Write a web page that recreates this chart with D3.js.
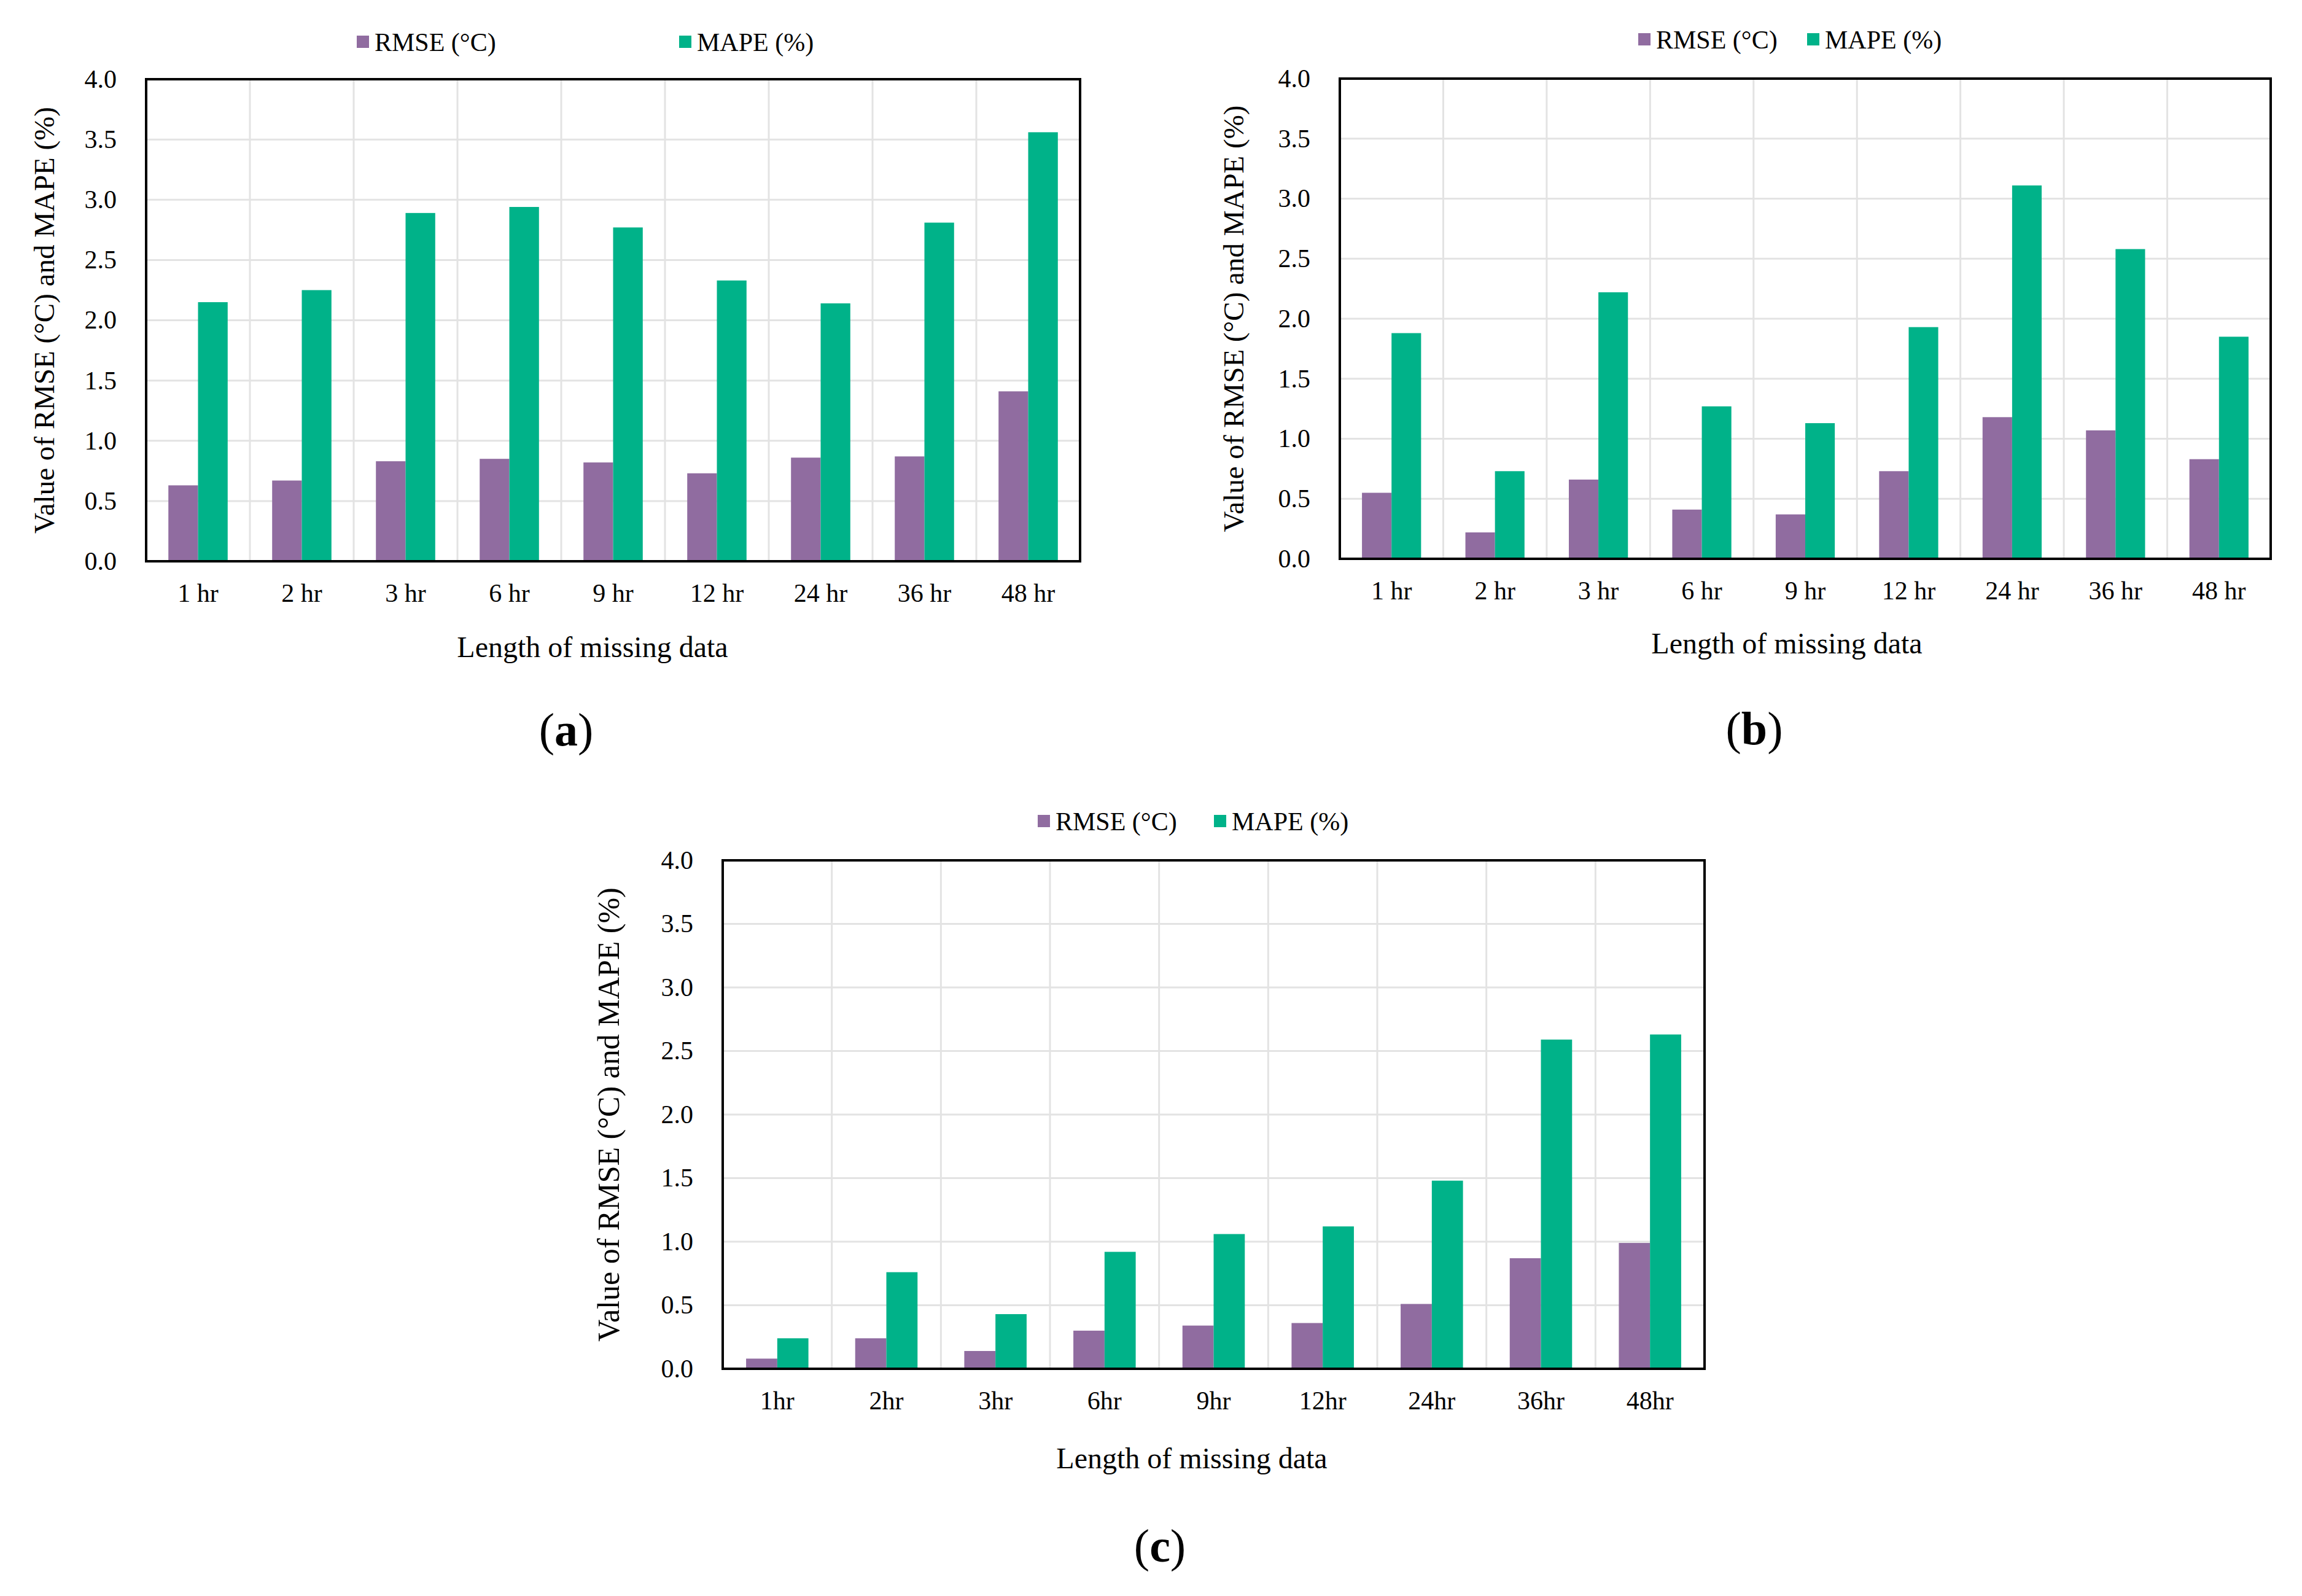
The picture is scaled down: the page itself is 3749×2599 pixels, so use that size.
<!DOCTYPE html>
<html>
<head>
<meta charset="utf-8">
<script src="https://cdn.jsdelivr.net/npm/d3@7"></script>
<style>
  body { margin: 0; background: #fff; }
  text { font-family: "Liberation Serif", "Times New Roman", serif; fill: #000; }
</style>
</head>
<body>
<div id="chart"></div>
<script>
// Data
var hoursAB = ["1 hr", "2 hr", "3 hr", "6 hr", "9 hr", "12 hr", "24 hr", "36 hr", "48 hr"];
var hoursC = ["1hr", "2hr", "3hr", "6hr", "9hr", "12hr", "24hr", "36hr", "48hr"];
var seriesNames = ["RMSE (°C)", "MAPE (%)"];
var yTicks = [0, 0.5, 1, 1.5, 2, 2.5, 3, 3.5, 4];

var rmseA = [0.63, 0.67, 0.83, 0.85, 0.82, 0.73, 0.86, 0.87, 1.41];
var mapeA = [2.15, 2.25, 2.89, 2.94, 2.77, 2.33, 2.14, 2.81, 3.56];

var rmseB = [0.55, 0.22, 0.66, 0.41, 0.37, 0.73, 1.18, 1.07, 0.83];
var mapeB = [1.88, 0.73, 2.22, 1.27, 1.13, 1.93, 3.11, 2.58, 1.85];

var rmseC = [0.08, 0.24, 0.14, 0.30, 0.34, 0.36, 0.51, 0.87, 0.99];
var mapeC = [0.24, 0.76, 0.43, 0.92, 1.06, 1.12, 1.48, 2.59, 2.63];

var colors = ["#906ca0", "#00b289"];

var svgWidth = 3749;
var svgHeight = 2599;

var svg = d3.select("#chart")
    .append("svg")
    .attr("width", svgWidth)
    .attr("height", svgHeight);

// panel layouts (pixel boxes)
var panels = [
    { cats: hoursAB, rmse: rmseA, mape: mapeA, left: 238, right: 1759, top: 129, bottom: 914,
      titleX: 72, titleSize: 47, xTitleX: 965, xTitleOff: 156, legY: 68, legX: [581, 1106],
      cap: "a", capX: 922, capY: 1214 },
    { cats: hoursAB, rmse: rmseB, mape: mapeB, left: 2182, right: 3698, top: 128, bottom: 910,
      titleX: 2009, titleSize: 47, xTitleX: 2910, xTitleOff: 154, legY: 64, legX: [2668, 2943],
      cap: "b", capX: 2857, capY: 1212 },
    { cats: hoursC, rmse: rmseC, mape: mapeC, left: 1177, right: 2776, top: 1401, bottom: 2229,
      titleX: 990, titleSize: 50, xTitleX: 1941, xTitleOff: 162, legY: 1337, legX: [1690, 1977],
      cap: "c", capX: 1889, capY: 2543 }
];

drawPanel = (p) => {
    var g = svg.append("g");
    var chartWidth = p.right - p.left;
    var chartHeight = p.bottom - p.top;

    var x0 = d3.scaleBand()
        .domain(p.cats)
        .range([p.left, p.right])
        .padding(0);

    // gap width 150% between groups
    var x1 = d3.scaleBand()
        .domain(seriesNames)
        .range([0, x0.bandwidth()])
        .paddingInner(0)
        .paddingOuter(0.75);

    var y = d3.scaleLinear()
        .domain([0, 4])
        .range([p.bottom, p.top]);

    // horizontal gridlines
    g.append("g")
        .selectAll("line")
        .data(yTicks.filter(d => d > 0 && d < 4))
        .join("line")
        .attr("x1", p.left)
        .attr("x2", p.right)
        .attr("y1", d => y(d))
        .attr("y2", d => y(d))
        .attr("stroke", "#e3e3e3")
        .attr("stroke-width", 3);

    // vertical gridlines between categories
    g.append("g")
        .selectAll("line")
        .data(p.cats.slice(1))
        .join("line")
        .attr("x1", d => x0(d))
        .attr("x2", d => x0(d))
        .attr("y1", p.top)
        .attr("y2", p.bottom)
        .attr("stroke", "#e3e3e3")
        .attr("stroke-width", 3);

    // bars
    var rows = p.cats.map((c, i) => ({ cat: c, vals: [p.rmse[i], p.mape[i]] }));
    g.append("g")
        .selectAll("g")
        .data(rows)
        .join("g")
        .attr("transform", d => `translate(${x0(d.cat)},0)`)
        .selectAll("rect")
        .data(d => d.vals.map((v, k) => ({ key: seriesNames[k], value: v, k: k })))
        .join("rect")
        .attr("x", d => x1(d.key))
        .attr("width", x1.bandwidth())
        .attr("y", d => y(d.value))
        .attr("height", d => y(0) - y(d.value))
        .attr("fill", d => colors[d.k]);

    // frame
    g.append("rect")
        .attr("x", p.left)
        .attr("y", p.top)
        .attr("width", chartWidth)
        .attr("height", chartHeight)
        .attr("fill", "none")
        .attr("stroke", "#000")
        .attr("stroke-width", 4);

    // axes (labels only)
    var leftAxis = d3.axisLeft(y).tickValues(yTicks).tickFormat(d3.format(".1f")).tickSize(0).tickPadding(48);
    var yAxis = g.append("g")
        .attr("transform", `translate(${p.left},0)`)
        .call(leftAxis);
    yAxis.select(".domain").remove();
    yAxis.selectAll("text")
        .attr("font-size", 42)
        .attr("font-family", "Liberation Serif");

    var bottomAxis = d3.axisBottom(x0).tickSize(0).tickPadding(36);
    var xAxis = g.append("g")
        .attr("transform", `translate(0,${p.bottom})`)
        .call(bottomAxis);
    xAxis.select(".domain").remove();
    xAxis.selectAll("text")
        .attr("font-size", 42)
        .attr("font-family", "Liberation Serif");

    // axis titles
    g.append("text")
        .attr("x", p.xTitleX)
        .attr("y", p.bottom + p.xTitleOff)
        .attr("text-anchor", "middle")
        .attr("font-size", 48)
        .text("Length of missing data");

    g.append("text")
        .attr("transform", `translate(${p.titleX},${(p.top + p.bottom) / 2}) rotate(-90)`)
        .attr("text-anchor", "middle")
        .attr("dy", "0.35em")
        .attr("font-size", p.titleSize)
        .text("Value of RMSE (°C) and MAPE (%)");

    // legend
    seriesNames.forEach((s, k) => {
        g.append("rect")
            .attr("x", p.legX[k])
            .attr("y", p.legY - 10)
            .attr("width", 20)
            .attr("height", 20)
            .attr("fill", colors[k]);
        g.append("text")
            .attr("x", p.legX[k] + 29)
            .attr("y", p.legY)
            .attr("dy", "0.35em")
            .attr("font-size", 42)
            .text(s);
    });

    // caption
    var cap = g.append("text")
        .attr("x", p.capX)
        .attr("y", p.capY)
        .attr("text-anchor", "middle")
        .attr("font-size", 76);
    cap.append("tspan").text("(");
    cap.append("tspan").attr("font-weight", "bold").text(p.cap);
    cap.append("tspan").text(")");
};

panels.forEach(drawPanel);
</script>
</body>
</html>
